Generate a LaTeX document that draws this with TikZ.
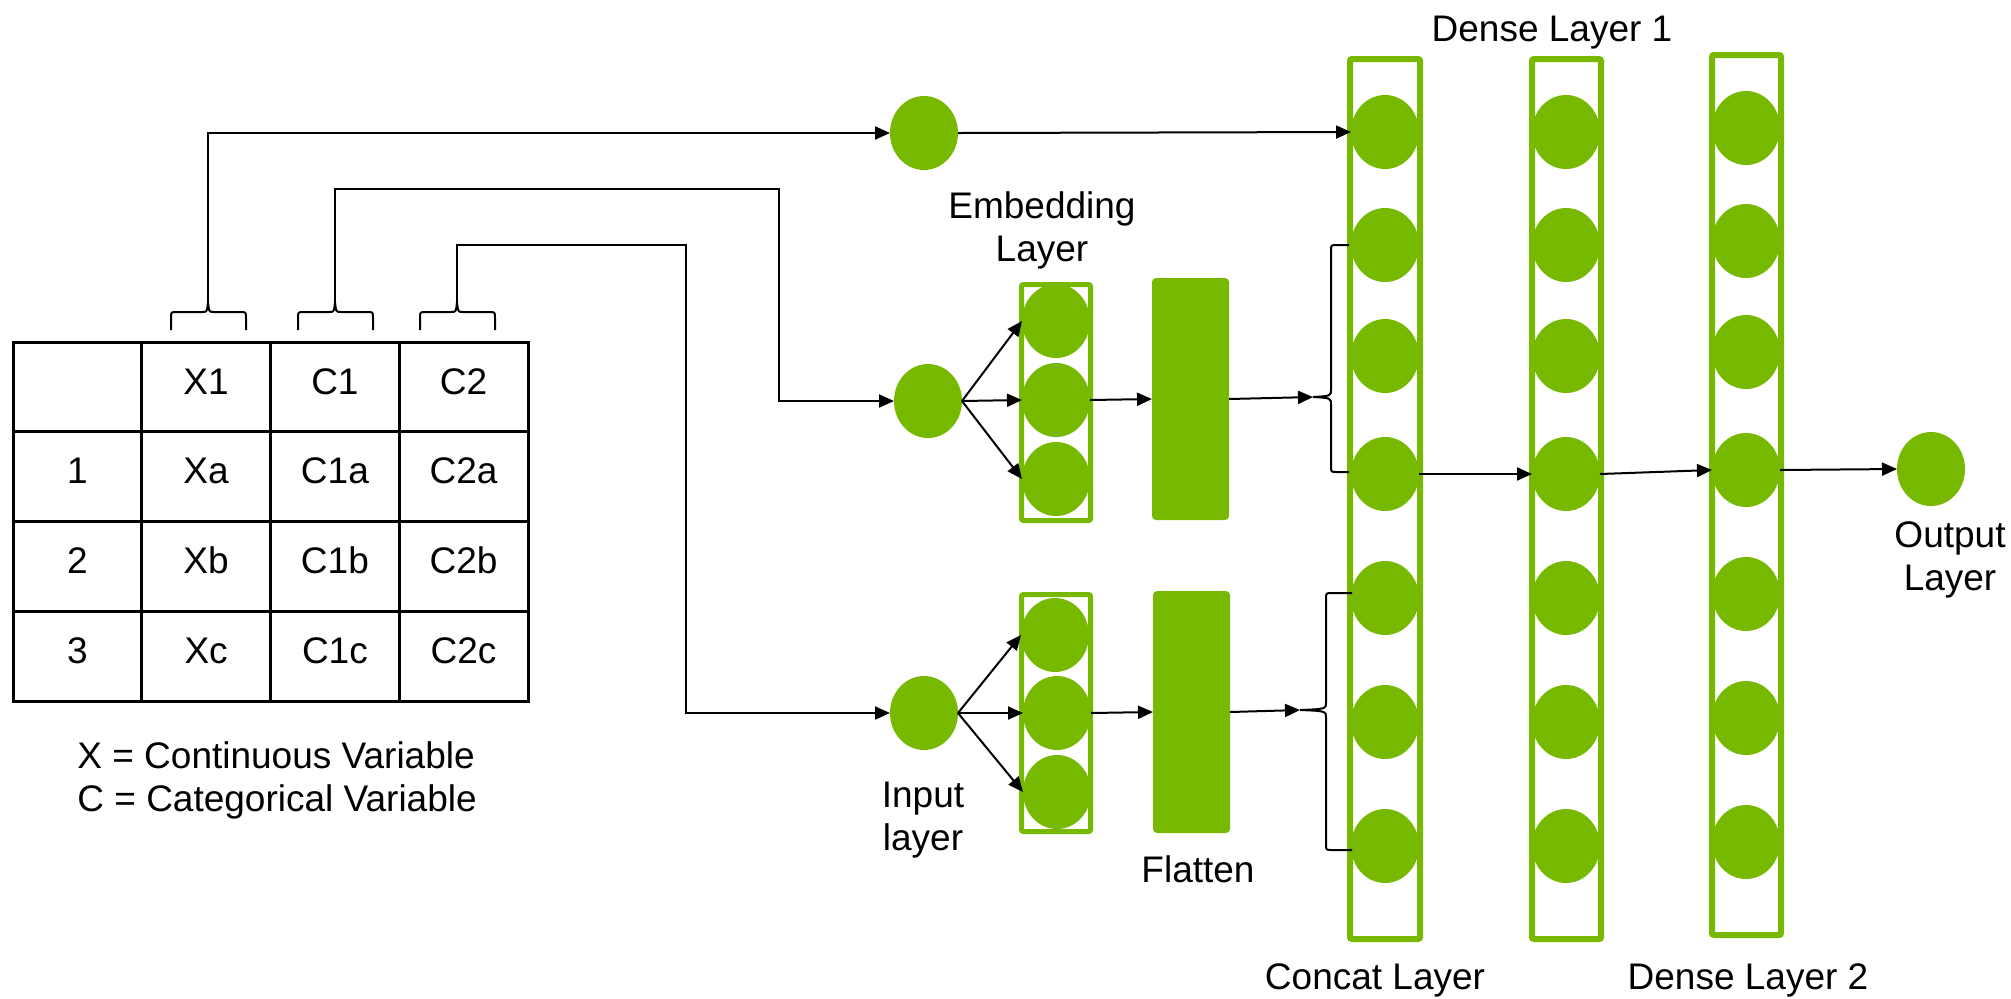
\documentclass[tikz,border=0pt]{standalone}
\usepackage{fontspec}
\setmainfont{Liberation Sans}
\usetikzlibrary{arrows.meta,shapes.geometric}
\definecolor{ngreen}{RGB}{118,185,0}
\begin{document}
\begin{tikzpicture}[x=0.5pt,y=-0.5pt,
  font=\fontsize{18.5}{21.5}\selectfont,
  neuron/.style={ellipse, fill=ngreen, minimum width=34pt, minimum height=37pt, inner sep=0pt, outer sep=0pt},
  layerbox/.style={draw=ngreen, line width=3pt, rounded corners=1pt},
  embbox/.style={draw=ngreen, line width=2.5pt, rounded corners=1pt},
  flatbox/.style={fill=ngreen, rounded corners=2pt, minimum width=38.5pt, minimum height=121pt, inner sep=0pt, outer sep=0pt},
  arr/.style={-{Triangle[length=7.5pt,width=6.5pt]}, line width=1pt},
  wire/.style={line width=1pt},
  cell/.style={draw, line width=1.5pt, minimum width=64.4pt, minimum height=44.9pt, inner sep=0pt, text height=13.3pt, text depth=6pt},
  lbl/.style={inner sep=0pt, align=center},
]
\useasboundingbox (0,0) rectangle (2011,998);

% ---------- table ----------
\node[cell] (t00) at (77.4,386.9) {};
\node[cell] (t01) at (206.1,386.9) {X1};
\node[cell] (t02) at (334.9,386.9) {C1};
\node[cell] (t03) at (463.6,386.9) {C2};
\node[cell] (t10) at (77.4,476.6) {1};
\node[cell] (t11) at (206.1,476.6) {Xa};
\node[cell] (t12) at (334.9,476.6) {C1a};
\node[cell] (t13) at (463.6,476.6) {C2a};
\node[cell] (t20) at (77.4,566.4) {2};
\node[cell] (t21) at (206.1,566.4) {Xb};
\node[cell] (t22) at (334.9,566.4) {C1b};
\node[cell] (t23) at (463.6,566.4) {C2b};
\node[cell] (t30) at (77.4,656.1) {3};
\node[cell] (t31) at (206.1,656.1) {Xc};
\node[cell] (t32) at (334.9,656.1) {C1c};
\node[cell] (t33) at (463.6,656.1) {C2c};

\node[lbl, align=left, anchor=north west] (legend) at (77,741) {X = Continuous Variable\\C = Categorical Variable};

% ---------- braces above the table ----------
\coordinate (bx1) at (208,302);
\coordinate (bc1) at (335,302);
\coordinate (bc2) at (457,302);
\foreach \cx in {208,335,457} {
  \draw[wire] ({\cx-37},330) -- ({\cx-37},318) .. controls ({\cx-37},312) .. ({\cx-31},312) -- ({\cx-6},312)
     .. controls ({\cx-1},312) .. (\cx,302) .. controls ({\cx+1},312) .. ({\cx+6},312) -- ({\cx+32},312)
     .. controls ({\cx+38},312) .. ({\cx+38},318) -- ({\cx+38},330);
}

% ---------- layer boxes ----------
\draw[layerbox] (1350,59) rectangle (1420,939);
\draw[layerbox] (1532,59) rectangle (1601,939);
\draw[layerbox] (1712,55) rectangle (1781,935);
\draw[embbox] (1021.5,284.5) rectangle (1090.5,520.5);
\draw[embbox] (1021.5,594.5) rectangle (1090.5,831.5);

% ---------- neurons ----------
\node[neuron] (xin) at (924,133) {};
\node[neuron] (ein1) at (928,401) {};
\node[neuron] (ein2) at (924,713) {};
\node[neuron] (e11) at (1056,321) {};
\node[neuron] (e12) at (1056,400) {};
\node[neuron] (e13) at (1056,479) {};
\node[neuron] (e21) at (1055,635) {};
\node[neuron] (e22) at (1057,713) {};
\node[neuron] (e23) at (1057,792) {};
\node[flatbox] (fl1) at (1190.5,399) {};
\node[flatbox] (fl2) at (1191.5,712) {};
\foreach \i/\y in {1/132,2/245,3/356,4/474,5/598,6/722,7/846} {
  \node[neuron] (c\i) at (1385,\y) {};
  \node[neuron] (d\i) at (1566,\y) {};
  \node[neuron] (g\i) at (1746,{\y-4}) {};
}
\node[neuron] (out) at (1931,469) {};

% ---------- labels ----------
\node[lbl, anchor=north] (embl) at (1042,191) {Embedding\\Layer};
\node[lbl, anchor=north] (inl) at (923,782) {Input\\layer};
\node[lbl, anchor=base] (flatl) at (1198,882) {Flatten};
\node[lbl, anchor=north] (outl) at (1950,521) {Output\\Layer};
\node[lbl, anchor=base] (d1l) at (1552,41) {Dense Layer 1};
\node[lbl, anchor=base] (catl) at (1375,989) {Concat Layer};
\node[lbl, anchor=base] (d2l) at (1748,989) {Dense Layer 2};

% ---------- connectors from the table ----------
\coordinate (k1) at (779,189);
\coordinate (k2) at (686,245);
\draw[arr] (bx1) |- (xin.west);
\draw[arr] (bc1) |- (k1) |- (ein1.west);
\draw[arr] (bc2) |- (k2) |- (ein2.west);

% ---------- network connectors ----------
\draw[arr] (xin.east) -- (c1.west);
\foreach \i in {1,2,3} {
  \draw[arr] (ein1.east) -- (e1\i.west);
  \draw[arr] (ein2.east) -- (e2\i.west);
}
\draw[arr] (e12.east) -- (fl1.west);
\draw[arr] (e22.east) -- (fl2.west);
\coordinate (ctip1) at (1313,397);
\coordinate (ctip2) at (1300,710);
\draw[arr] (fl1.east) -- (ctip1);
\draw[arr] (fl2.east) -- (ctip2);
\draw[arr] (c4.east) -- (d4.west);
\draw[arr] (d4.east) -- (g4.west);
\draw[arr] (g4.east) -- (out.west);

% ---------- braces into the concat layer ----------
\draw[wire] (1349,245) -- (1337,245) .. controls (1331,245) .. (1331,251) -- (1331,389)
  .. controls (1331,396) .. (ctip1) .. controls (1331,398) .. (1331,405) -- (1331,466)
  .. controls (1331,472) .. (1337,472) -- (1349,472);
\draw[wire] (1352,593) -- (1332,593) .. controls (1326,593) .. (1326,599) -- (1326,702)
  .. controls (1326,709) .. (ctip2) .. controls (1326,711) .. (1326,718) -- (1326,844)
  .. controls (1326,850) .. (1332,850) -- (1352,850);
\end{tikzpicture}
\end{document}
